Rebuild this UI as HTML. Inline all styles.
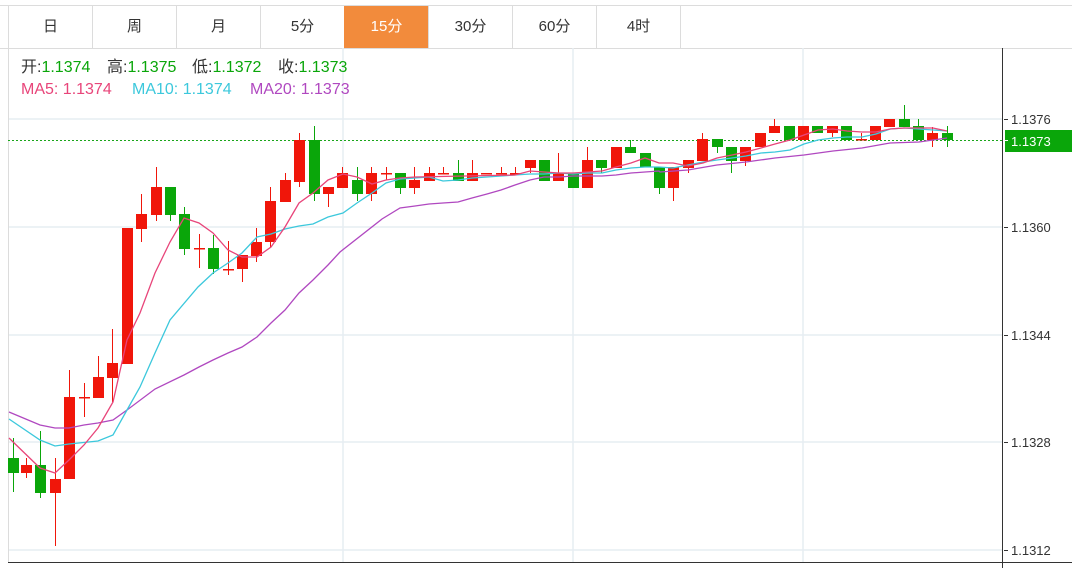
<!DOCTYPE html>
<html><head><meta charset="utf-8"><style>
html,body{margin:0;padding:0;background:#fff;}
body{width:1072px;height:568px;overflow:hidden;position:relative;font-family:"Liberation Sans","Noto Sans CJK SC",sans-serif;}
.tabs{position:absolute;left:0;top:5px;width:1072px;height:42px;border-top:1px solid #dcdcdc;border-bottom:1px solid #dcdcdc;}
.tab{position:absolute;top:0;height:42px;width:83px;border-left:1px solid #dcdcdc;text-align:center;line-height:42px;font-size:15px;color:#333;}
.tab.on{background:#f28b3c;color:#fff;border-left-color:#f28b3c;}
.i{position:absolute;font-size:16px;white-space:pre;line-height:20px;}
.g{color:#0aa60a}
</style></head><body>
<div class="tabs">
<div class="tab" style="left:8px">日</div>
<div class="tab" style="left:92px">周</div>
<div class="tab" style="left:176px">月</div>
<div class="tab" style="left:260px">5分</div>
<div class="tab on" style="left:344px">15分</div>
<div class="tab" style="left:428px">30分</div>
<div class="tab" style="left:512px">60分</div>
<div class="tab" style="left:596px">4时</div>
<div class="tab" style="left:680px;width:0"></div>
</div>
<svg width="1072" height="568" style="position:absolute;left:0;top:0" xmlns="http://www.w3.org/2000/svg">
<g stroke="#e6edf2" stroke-width="1.5">
<line x1="8" y1="119" x2="1002" y2="119"/><line x1="8" y1="227" x2="1002" y2="227"/><line x1="8" y1="335" x2="1002" y2="335"/><line x1="8" y1="442" x2="1002" y2="442"/><line x1="8" y1="550" x2="1002" y2="550"/>
<line x1="343" y1="48" x2="343" y2="562"/><line x1="573" y1="48" x2="573" y2="562"/><line x1="803" y1="48" x2="803" y2="562"/>
</g>
<line x1="8.5" y1="48" x2="8.5" y2="562" stroke="#dcdcdc"/>
<line x1="1002.5" y1="48" x2="1002.5" y2="568" stroke="#333"/>
<line x1="8" y1="562.5" x2="1072" y2="562.5" stroke="#333"/>
<line x1="8" y1="140.5" x2="1002" y2="140.5" stroke="#1aa61a" stroke-dasharray="2,2"/>
<g font-size="13" fill="#333" font-family="Liberation Sans, sans-serif">
<line x1="1004" y1="119.5" x2="1008" y2="119.5" stroke="#333"/><text x="1011" y="124">1.1376</text>
<line x1="1004" y1="227.5" x2="1008" y2="227.5" stroke="#333"/><text x="1011" y="232">1.1360</text>
<line x1="1004" y1="335.5" x2="1008" y2="335.5" stroke="#333"/><text x="1011" y="340">1.1344</text>
<line x1="1004" y1="442.5" x2="1008" y2="442.5" stroke="#333"/><text x="1011" y="447">1.1328</text>
<line x1="1004" y1="550.5" x2="1008" y2="550.5" stroke="#333"/><text x="1011" y="555">1.1312</text>
</g>
<rect x="1005" y="130" width="67" height="22" fill="#0aa60a"/>
<line x1="1004" y1="140.5" x2="1008" y2="140.5" stroke="#fff"/>
<text x="1011" y="146" font-size="13" fill="#fff">1.1373</text>
<g id="c" stroke-width="1"></g>
<polyline fill="none" stroke="#b048c0" stroke-width="1.3" points="9,412 40,425 55,428 69,428 84,425 98,423 113,420 127,410 155,389 184,375 199,367 213,360 228,353 242,347 257,337 271,323 285,310 299,293 313,280 328,265 340,252 382,219 400,208 415,206 429,204 443,203 458,202 472,198 487,194 501,190 515,185 530,180 544,177 559,177 573,176 588,176 602,176 616,175 631,173 645,172 659,171 660,172 688,170 717,165 746,162 775,158 804,155 833,151 862,148 890,143 919,142 947,138"/>
<polyline fill="none" stroke="#3cc8dc" stroke-width="1.3" points="9,419 40,440 55,446 69,444 98,441 113,435 127,410 140,387 155,353 170,320 198,287 213,273 228,263 242,253 257,237 271,234 285,229 299,226 313,224 328,217 343,213 357,203 372,193 386,183 400,179 415,178 429,177 443,181 458,180 472,178 487,177 501,176 515,175 530,174 544,174 559,173 573,174 588,173 602,173 616,170 631,168 645,167 659,167 673,168 688,165 703,162 717,160 732,158 746,156 761,153 775,152 790,150 804,144 818,140 833,138 847,137 862,137 876,134 890,129 904,128 919,129 933,130 947,131"/>
<polyline fill="none" stroke="#e8457a" stroke-width="1.3" points="9,438 40,468 55,473 69,460 84,445 98,428 113,402 127,340 140,313 155,273 170,242 184,218 199,223 213,233 228,250 242,257 257,257 271,247 285,227 299,203 313,193 328,180 343,174 357,177 372,184 386,180 400,178 415,177 515,175 530,171 544,172 559,173 573,173 588,172 602,171 616,167 631,163 645,158 659,163 673,163 688,166 703,163 717,158 732,155 746,152 761,148 775,144 790,140 804,135 818,130 833,129 847,131 862,132 876,132 890,129 904,128 919,128 933,128 947,131"/>
</svg>
<div class="i" style="left:21px;top:58px;color:#333">开:<span class="g">1.1374</span></div>
<div class="i" style="left:107px;top:58px;color:#333">高:<span class="g">1.1375</span></div>
<div class="i" style="left:192px;top:58px;color:#333">低:<span class="g">1.1372</span></div>
<div class="i" style="left:278px;top:58px;color:#333">收:<span class="g">1.1373</span></div>
<div class="i" style="left:21px;top:80px;color:#e8457a">MA5: 1.1374</div>
<div class="i" style="left:132px;top:80px;color:#3cc8dc">MA10: 1.1374</div>
<div class="i" style="left:250px;top:80px;color:#b048c0">MA20: 1.1373</div>
<script>
var d=[[13,458,473,438,492,0],[26,465,473,458,478,1],[40,465,493,431,498,0],[55,479,493,458,546,1],[69,397,479,370,479,1],[84,397,398,383,417,1],[98,377,398,356,398,1],[112,363,378,329,402,1],[127,228,364,228,364,1],[141,214,229,194,242,1],[156,187,215,167,221,1],[170,187,215,187,221,0],[184,214,249,207,255,0],[199,248,249,234,268,1],[213,248,269,235,274,0],[228,269,270,241,275,1],[242,255,269,255,282,1],[256,242,256,228,262,1],[270,201,242,187,247,1],[285,180,202,173,202,1],[299,140,182,133,187,1],[314,140,194,126,201,0],[328,187,194,187,207,1],[342,173,188,167,188,1],[357,180,194,167,201,0],[371,173,194,167,201,1],[386,173,174,167,180,1],[400,173,188,173,194,0],[414,180,188,167,194,1],[429,173,181,167,181,1],[443,173,174,167,174,1],[458,173,181,160,181,0],[472,173,181,160,181,1],[486,173,174,173,174,1],[501,173,174,167,174,1],[515,173,174,167,174,1],[530,160,168,160,173,1],[544,160,181,160,181,0],[558,173,181,153,181,1],[573,173,188,173,188,0],[587,160,188,147,188,1],[601,160,168,160,173,0],[616,147,168,147,168,1],[630,147,153,140,153,0],[645,153,167,153,167,0],[659,167,188,167,194,0],[673,167,188,167,201,1],[688,160,168,160,173,1],[702,139,161,133,161,1],[717,139,147,139,153,0],[731,147,161,147,173,0],[745,147,161,147,166,1],[760,133,147,133,147,1],[774,126,133,119,133,1],[789,126,140,126,140,0],[803,126,140,126,140,1],[817,126,133,126,133,0],[832,126,133,126,137,1],[846,126,140,126,140,0],[861,139,140,133,140,1],[875,126,140,126,140,1],[889,119,127,119,127,1],[904,119,127,105,127,0],[918,126,140,119,140,0],[932,133,140,127,147,1],[947,133,140,126,147,0]];
var g=document.getElementById('c'),s='';
d.forEach(function(c){var col=c[5]?'#f0160a':'#0aa60a';var h=Math.max(1.5,c[2]-c[1]);
s+='<line x1="'+(c[0]+.5)+'" y1="'+c[3]+'" x2="'+(c[0]+.5)+'" y2="'+c[4]+'" stroke="'+col+'"/>';
s+='<rect x="'+(c[0]-5)+'" y="'+c[1]+'" width="11" height="'+h+'" fill="'+col+'"/>';});
g.innerHTML=s;
</script>
</body></html>
